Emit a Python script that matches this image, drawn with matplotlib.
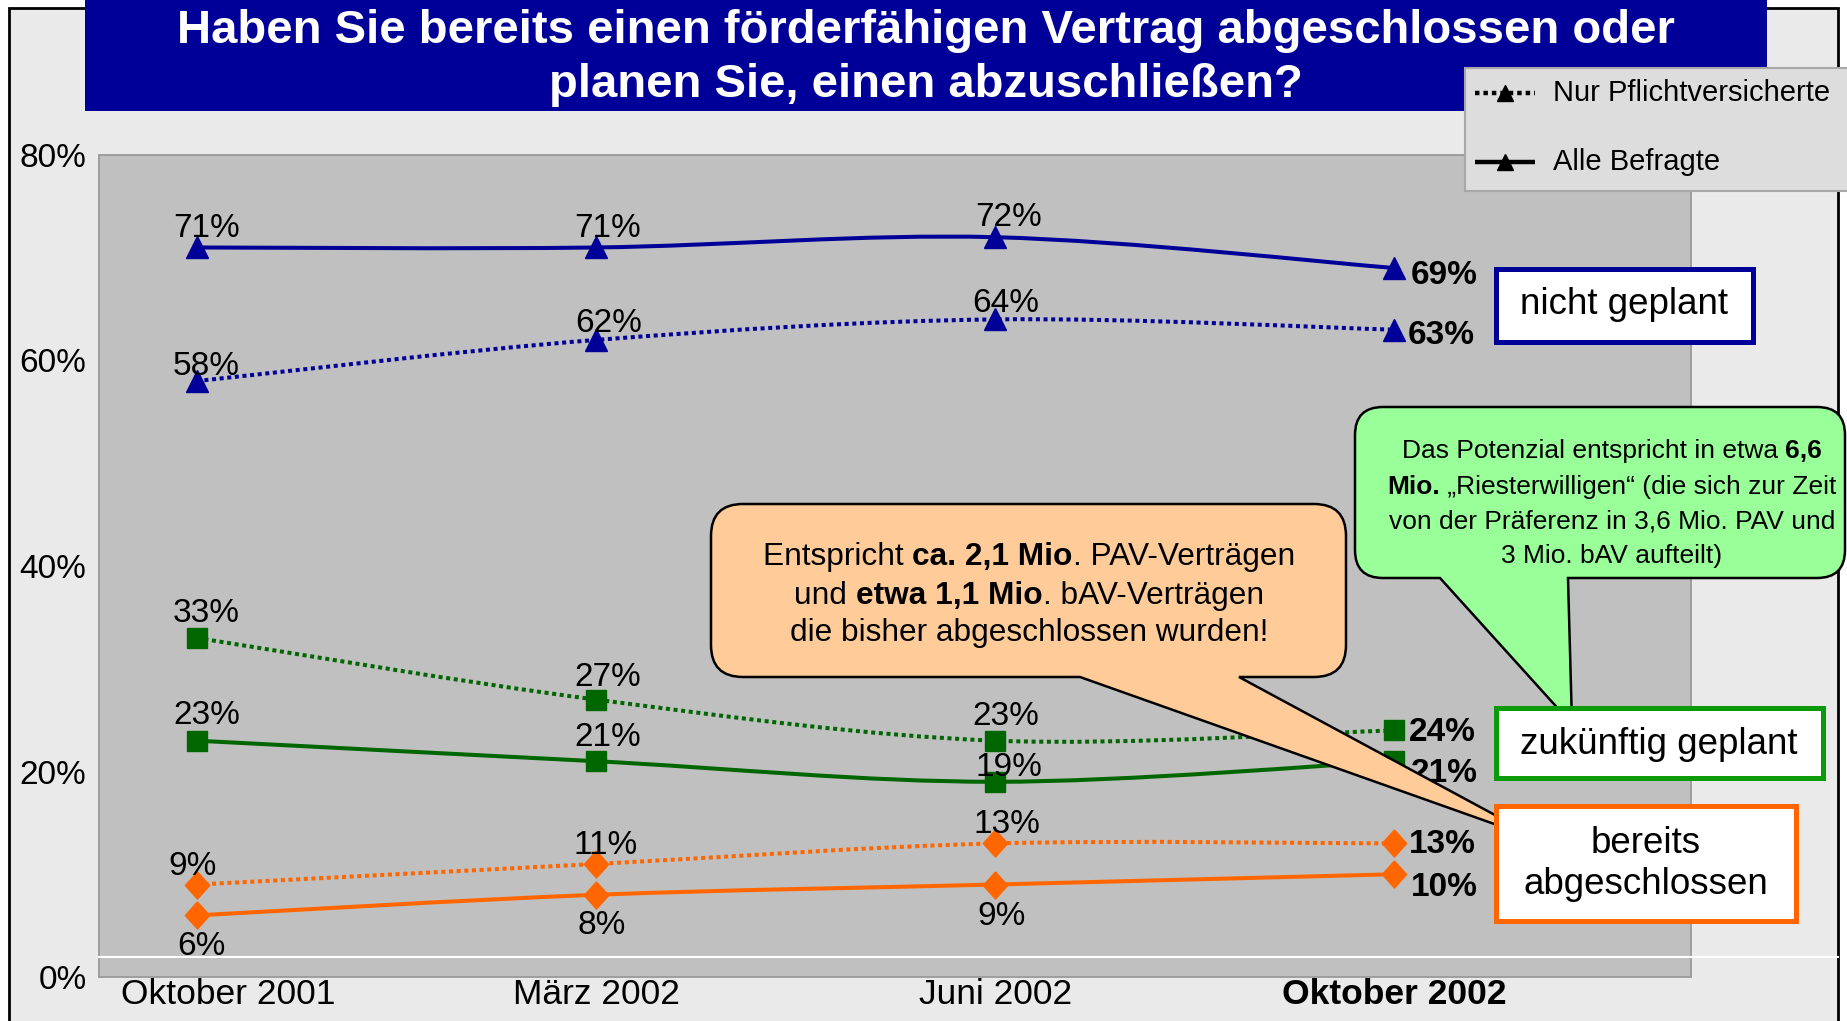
import matplotlib
matplotlib.use("Agg")
import matplotlib.pyplot as plt
from matplotlib.patches import Rectangle, PathPatch
from matplotlib.path import Path
from matplotlib.lines import Line2D
from matplotlib.font_manager import FontProperties
from matplotlib.transforms import ScaledTranslation

FONT = "Liberation Sans"
plt.rcParams["font.family"] = [FONT, "DejaVu Sans"]

# ---------------- data ----------------
categories = ["Oktober 2001", "März 2002", "Juni 2002", "Oktober 2002"]
nicht_alle = [71, 71, 72, 69]
nicht_pflicht = [58, 62, 64, 63]
zukunft_alle = [23, 21, 19, 21]
zukunft_pflicht = [33, 27, 23, 24]
bereits_alle = [6, 8, 9, 10]
bereits_pflicht = [9, 11, 13, 13]
y_ticks = [0, 20, 40, 60, 80]
y_ticklabels = ["0%", "20%", "40%", "60%", "80%"]
legend_labels = ["Nur Pflichtversicherte", "Alle Befragte"]
title_lines = ["Haben Sie bereits einen förderfähigen Vertrag abgeschlossen oder",
               "planen Sie, einen abzuschließen?"]

W, H = 1847, 1021
fig = plt.figure(figsize=(W / 100, H / 100), dpi=100)
fig.patch.set_facecolor("white")


def F(x, y):
    return (x / W, 1 - y / H)


# outer frame / background
fig.add_artist(Rectangle(F(9, 1030), (1838 - 9) / W, (1030 - 8) / H,
                         transform=fig.transFigure, facecolor="#EAEAEA",
                         edgecolor="black", lw=2, zorder=-2))

BLUE, GREEN, ORANGE = "#000099", "#006600", "#FF6600"
DIAMOND = [(0, 1), (0.9, 0), (0, -1), (-0.9, 0), (0, 1)]

ax = fig.add_axes([99 / W, 1 - 977 / H, (1691 - 99) / W, (977 - 155) / H])
ax.set_facecolor("#C0C0C0")
ax.set_xlim(-0.245, 3.743)
ax.set_ylim(0, 80)
for s in ax.spines.values():
    s.set_color("#9A9A9A")
    s.set_linewidth(1.3)
ax.set_yticks(y_ticks)
ax.set_yticklabels(y_ticklabels, fontsize=24)
ax.set_xticks(range(len(categories)))
ax.set_xticklabels(categories, fontsize=25.5)
ax.tick_params(length=0)
ax.tick_params(axis="y", pad=9)
ax.tick_params(axis="x", pad=1)
xlabels = ax.get_xticklabels()
xlabels[-1].set_fontweight("bold")
# Excel pushes the first category label inside the frame
xlabels[0].set_transform(xlabels[0].get_transform()
                         + ScaledTranslation(0.31, 0, fig.dpi_scale_trans))


def smooth_path(xv, yv):
    pts = list(zip(xv, yv))
    n = len(pts)
    verts = [pts[0]]
    codes = [Path.MOVETO]
    for i in range(n - 1):
        p0 = pts[i - 1] if i > 0 else pts[i]
        p1, p2 = pts[i], pts[i + 1]
        p3 = pts[i + 2] if i + 2 < n else pts[i + 1]
        c1 = (p1[0] + (p2[0] - p0[0]) / 6, p1[1] + (p2[1] - p0[1]) / 6)
        c2 = (p2[0] - (p3[0] - p1[0]) / 6, p2[1] - (p3[1] - p1[1]) / 6)
        verts += [c1, c2, p2]
        codes += [Path.CURVE4] * 3
    return Path(verts, codes)


xs = list(range(len(categories)))
DOT = (0, (1, 0.9))
series = [
    # values, colour, marker, ms, linestyle, label offsets (px) for first 3 points, last offset
    (nicht_alle, BLUE, "^", 15.5, "-", [(10, 19), (12, 19), (13, 20)], (16, -7)),
    (nicht_pflicht, BLUE, "^", 15.5, DOT, [(9, 15), (13, 16), (11, 16)], (13, -6)),
    (zukunft_pflicht, GREEN, "s", 14, DOT, [(9, 24), (12, 22), (11, 24)], (14, -2)),
    (zukunft_alle, GREEN, "s", 14, "-", [(10, 25), (12, 24), (14, 14)], (16, -12)),
    (bereits_pflicht, ORANGE, DIAMOND, 19.5, DOT, [(-4, 18), (10, 18), (12, 19)], (14, -1)),
    (bereits_alle, ORANGE, DIAMOND, 19.5, "-", [(5, -31), (6, -31), (6, -32)], (16, -13)),
]
for vals, col, mk, ms, ls, offs, last in series:
    ax.add_patch(PathPatch(smooth_path(xs, vals), facecolor="none", edgecolor=col,
                           lw=2.9, linestyle=ls, capstyle="butt", zorder=2.5))
    ax.plot(xs, vals, ls="none", marker=mk, ms=ms, mfc=col, mec=col, zorder=3)
    for i, v in enumerate(vals[:-1]):
        dx, dy = offs[i]
        ax.annotate(f"{v}%", (xs[i], v), xytext=(dx * 0.72, dy * 0.72),
                    textcoords="offset points", ha="center", va="center",
                    fontsize=24, zorder=4)
    dx, dy = last
    ax.annotate(f"{vals[-1]}%", (xs[-1], vals[-1]), xytext=(dx * 0.72, dy * 0.72),
                textcoords="offset points", ha="left", va="center",
                fontsize=24, fontweight="bold", zorder=4)

# white line near the bottom
fig.add_artist(Line2D([99 / W, 1838 / W], [1 - 957 / H] * 2, transform=fig.transFigure,
                      color="white", lw=1.5, zorder=1))

# title banner
fig.add_artist(Rectangle(F(85, 111), (1767 - 85) / W, 111 / H + 0.01,
                         transform=fig.transFigure, facecolor="#000099",
                         edgecolor="none", zorder=2))
for line, yb in zip(title_lines, [43, 97]):
    fig.text(926 / W, 1 - yb / H, line, ha="center", va="baseline", color="white",
             fontsize=34, fontweight="bold", zorder=3)

# legend (manual)
fig.add_artist(Rectangle(F(1465, 191), (1850 - 1465) / W, (191 - 68) / H,
                         transform=fig.transFigure, facecolor="#DDDDDD",
                         edgecolor="#A8A8A8", lw=1.5, zorder=5))
for lab, ls, yy in zip(legend_labels, [DOT, "-"], [93, 162]):
    fig.add_artist(Line2D([1475 / W, 1535 / W], [1 - yy / H] * 2, transform=fig.transFigure,
                          color="black", lw=3.2, ls=ls, dash_capstyle="butt",
                          solid_capstyle="butt", zorder=6))
    fig.add_artist(Line2D([1505 / W], [1 - yy / H], transform=fig.transFigure,
                          color="black", marker="^", ms=11, lw=0, zorder=6))
    fig.text(1553 / W, 1 - yy / H, lab, ha="left", va="center", fontsize=21, zorder=7)


# callouts
def balloon(x0, y0, x1, y1, r, bx0, bx1, tx, ty, fc):
    T, B = H - y0, H - y1
    L, R = x0, x1
    tyy = H - ty
    verts = [
        (L + r, T), (R - r, T), (R, T), (R, T - r), (R, B + r), (R, B), (R - r, B),
        (bx1, B), (tx, tyy), (bx0, B), (L + r, B), (L, B), (L, B + r), (L, T - r),
        (L, T), (L + r, T), (L + r, T),
    ]
    codes = [Path.MOVETO, Path.LINETO, Path.CURVE3, Path.CURVE3, Path.LINETO,
             Path.CURVE3, Path.CURVE3, Path.LINETO, Path.LINETO, Path.LINETO,
             Path.LINETO, Path.CURVE3, Path.CURVE3, Path.LINETO, Path.CURVE3,
             Path.CURVE3, Path.CLOSEPOLY]
    verts = [(vx / W, vy / H) for vx, vy in verts]
    p = PathPatch(Path(verts, codes), transform=fig.transFigure, facecolor=fc,
                  edgecolor="black", lw=1.8, zorder=8)
    fig.add_artist(p)


renderer = fig.canvas.get_renderer()


def seg_width(s, size, bold):
    fp = FontProperties(family=FONT, size=size, weight="bold" if bold else "normal")
    w1, _, _ = renderer.get_text_width_height_descent(s + "|", fp, ismath=False)
    w2, _, _ = renderer.get_text_width_height_descent("|", fp, ismath=False)
    return w1 - w2


def rich_line(xc, yb, segments, size):
    widths = [seg_width(s, size, b) for s, b in segments]
    total = sum(widths)
    x = xc - total / 2
    for (s, b), w in zip(segments, widths):
        fig.text(x / W, 1 - yb / H, s, ha="left", va="baseline", fontsize=size,
                 fontweight="bold" if b else "normal", zorder=9)
        x += w


balloon(711, 504, 1346, 677, 32, 1080, 1239, 1545, 842, "#FFCC99")
orange_lines = [
    [("Entspricht ", False), ("ca. 2,1 Mio", True), (". PAV-Verträgen", False)],
    [("und ", False), ("etwa 1,1 Mio", True), (". bAV-Verträgen", False)],
    [("die bisher abgeschlossen wurden!", False)],
]
for segs, yb in zip(orange_lines, [565, 604, 641]):
    rich_line(1029, yb, segs, 22.8)

balloon(1355, 407, 1845, 578, 28, 1440, 1568, 1572, 724, "#99FF99")
green_lines = [
    [("Das Potenzial entspricht in etwa ", False), ("6,6", True)],
    [("Mio.", True), (" \u201eRiesterwilligen\u201c (die sich zur Zeit", False)],
    [("von der Präferenz in 3,6 Mio. PAV und", False)],
    [("3 Mio. bAV aufteilt)", False)],
]
for segs, yb in zip(green_lines, [458, 494, 529, 563]):
    rich_line(1612, yb, segs, 19)


# category label boxes
def label_box(x0, y0, x1, y1, col, text, xc, yc, ls=1.2):
    fig.add_artist(Rectangle(F(x0, y1), (x1 - x0) / W, (y1 - y0) / H,
                             transform=fig.transFigure, facecolor="white",
                             edgecolor=col, lw=3.6, zorder=10))
    fig.text(xc / W, 1 - yc / H, text, ha="center", va="center", fontsize=26.5,
             linespacing=ls, zorder=11)


label_box(1496, 269, 1753, 342, "#000099", "nicht geplant", 1624, 305)
label_box(1496, 708, 1823, 778, "#0A9A0A", "zukünftig geplant", 1659, 744)
label_box(1496, 806, 1796, 921, "#FF6600", "bereits\nabgeschlossen", 1646, 864, 1.22)

fig.savefig("out.png", dpi=100, facecolor=fig.get_facecolor())
